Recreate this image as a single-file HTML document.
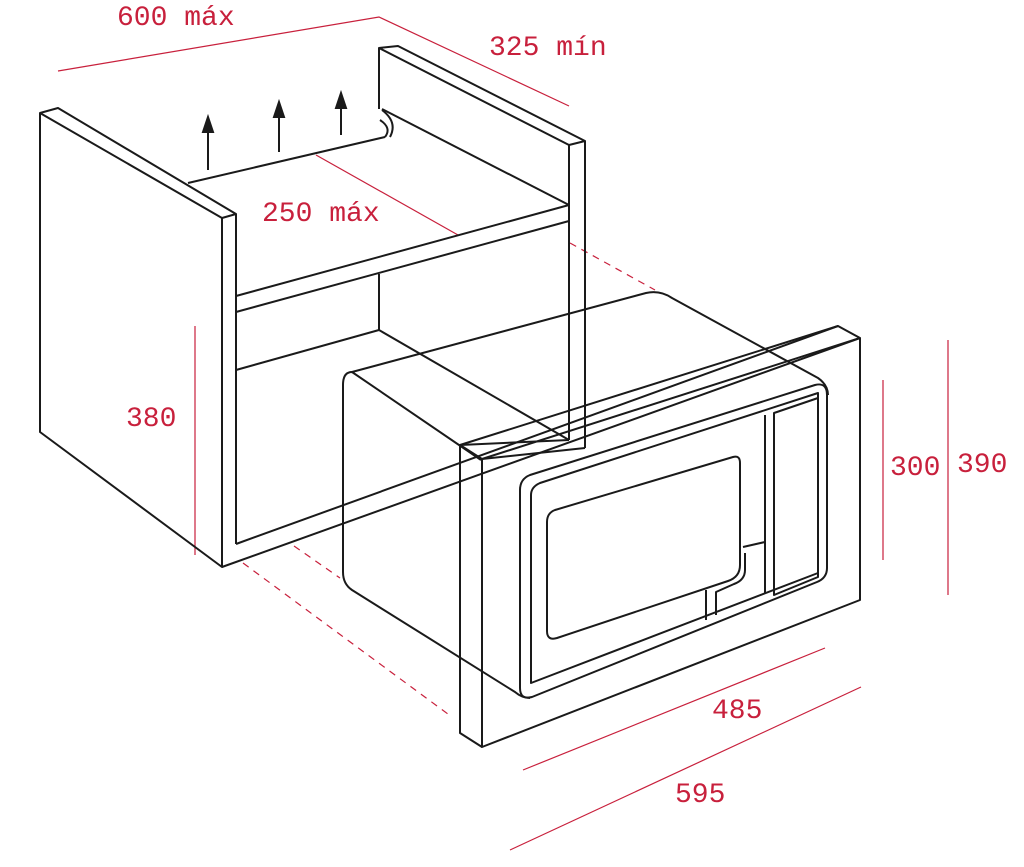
<!DOCTYPE html>
<html><head><meta charset="utf-8"><style>
html,body{margin:0;padding:0;background:#fff;}
svg{display:block;}
text{font-family:"Liberation Mono","DejaVu Sans Mono",monospace;fill:#c8203c;font-size:28px;}
</style></head><body>
<svg width="1024" height="867" viewBox="0 0 1024 867" xmlns="http://www.w3.org/2000/svg">
<g fill="none" stroke="#c8203c" stroke-width="1.2">
  <polyline points="58,71 379,17 569,106"/>
  <line x1="316" y1="155" x2="458" y2="235"/>
  <line x1="195" y1="326" x2="195" y2="555"/>
  <line x1="883" y1="380" x2="883" y2="560"/>
  <line x1="948" y1="340" x2="948" y2="595"/>
  <line x1="523" y1="770" x2="825" y2="648"/>
  <line x1="510" y1="850" x2="861" y2="687"/>
  <g stroke-dasharray="7,6">
    <line x1="570" y1="243" x2="655" y2="290"/>
    <line x1="243" y1="563" x2="452" y2="717"/>
    <line x1="294" y1="546" x2="340" y2="578"/>
  </g>
</g>
<g fill="none" stroke="#1a1a1a" stroke-width="2" stroke-linejoin="round">
  <!-- left panel -->
  <polygon points="40,113 222,218 222,567 40,432"/>
  <polyline points="40,113 58,108 236,214 222,218"/>
  <line x1="236" y1="214" x2="236" y2="544"/>
  <!-- right panel -->
  <polyline points="379,109 379,48 398,46 585,141 569,145 379,48"/>
  <line x1="569" y1="145" x2="569" y2="440"/>
  <line x1="585" y1="141" x2="585" y2="448"/>
  <line x1="382" y1="109" x2="569" y2="205"/>
  <path d="M382,110 Q398,122 390,137"/>
  <path d="M380,120 Q392,128 385,137"/>
  <line x1="188" y1="183" x2="385" y2="137"/>
  <!-- shelf -->
  <line x1="236" y1="296" x2="569" y2="205"/>
  <line x1="236" y1="312" x2="569" y2="221"/>
  <line x1="379" y1="274" x2="379" y2="330"/>
  <line x1="236" y1="370" x2="379" y2="330"/>
  <line x1="379" y1="330" x2="569" y2="440"/>
  <!-- cabinet base long lines -->
  <line x1="222" y1="567" x2="860" y2="338"/>
  <line x1="236" y1="544" x2="838" y2="326"/>
  <line x1="460" y1="445" x2="569" y2="440"/>
  <line x1="482" y1="459" x2="585" y2="448"/>
  <!-- microwave body -->
  <path d="M481,460 L352,372 Q343,372 343,385 L343,572 Q343,584 352,590 L515,692 Q522,698 530,698"/>
  <path d="M352,372 L646,293 Q660,290 672,298 L818,378 Q828,385 828,395"/>
  <!-- frame -->
  <polygon points="482,459 860,338 860,600 482,747"/>
  <polyline points="482,459 460,445 838,326 860,338"/>
  <polyline points="460,445 460,733 482,747"/>
  <!-- door -->
  <path d="M530,475 L815,385 Q827,382 827,395 L827,568 Q827,578 817,582 L532,697 Q520,700 520,688 L520,490 Q520,479 530,475 Z"/>
  <path d="M540,483 L818,393 L818,573 L531,683 L531,495 Q531,487 540,483 Z"/>
  <path d="M555,510 L733,457 Q740,455 740,463 L740,565 Q740,577 728,581 L557,638 Q547,641 547,631 L547,522 Q547,513 555,510 Z"/>
  <line x1="765" y1="415" x2="765" y2="593"/>
  <polygon points="774,413 818,398 818,577 774,595"/>
  <line x1="743" y1="547" x2="765" y2="542"/>
  <path d="M745,553 L745,570 Q745,580 734,584 L716,592 L716,615"/>
  <line x1="706" y1="590" x2="706" y2="620"/>
</g>
<g fill="#1a1a1a" stroke="#1a1a1a" stroke-width="2">
  <line x1="208" y1="170" x2="208" y2="128"/><polygon points="203,132 213,132 208,117"/>
  <line x1="279" y1="152" x2="279" y2="113"/><polygon points="274,117 284,117 279,102"/>
  <line x1="341" y1="135" x2="341" y2="104"/><polygon points="336,108 346,108 341,93"/>
</g>
<text x="117" y="25">600 máx</text>
<text x="489" y="55">325 mín</text>
<text x="262" y="221">250 máx</text>
<text x="126" y="426">380</text>
<text x="890" y="475">300</text>
<text x="957" y="472">390</text>
<text x="712" y="718">485</text>
<text x="675" y="802">595</text>
</svg>
</body></html>
